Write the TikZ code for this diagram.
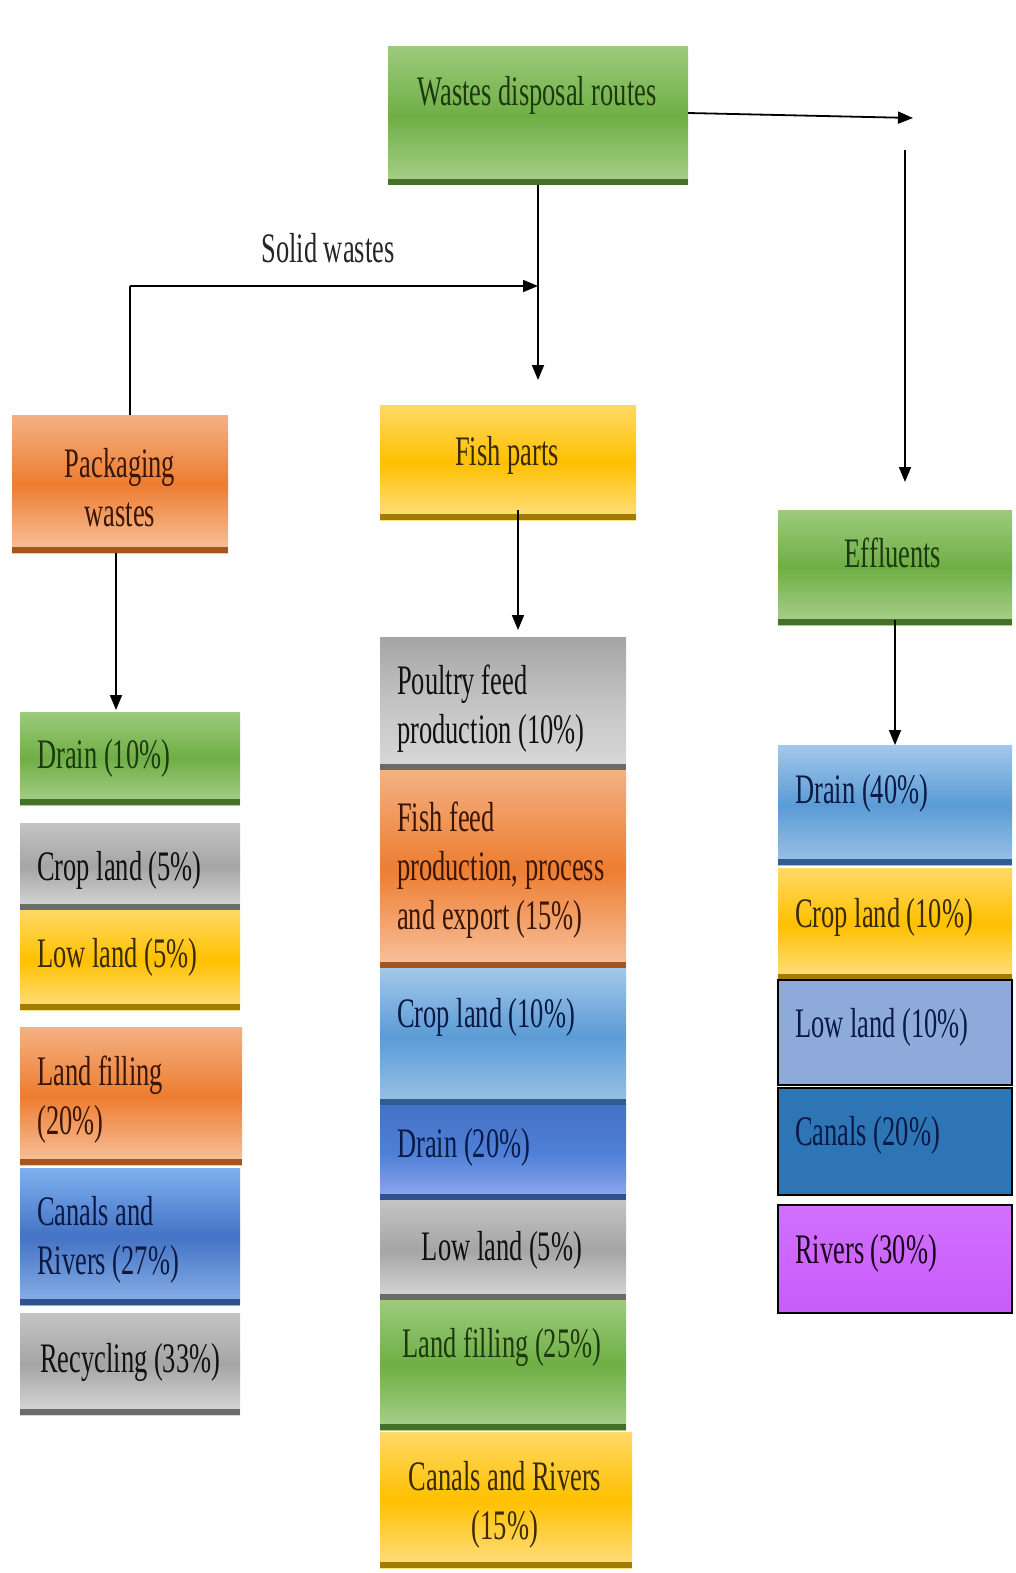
\documentclass[tikz,border=0pt]{standalone}
\usepackage{fontspec}
\setmainfont[FakeStretch=0.63]{Liberation Serif}
\usetikzlibrary{arrows.meta}

% box palettes
\definecolor{gTop}{HTML}{9CCB7C}\definecolor{gMid}{HTML}{6FAE45}\definecolor{gBot}{HTML}{A9D18E}\definecolor{gBand}{HTML}{476F2C}\definecolor{gTxt}{HTML}{1C3A0E}
\definecolor{oTop}{HTML}{F4B183}\definecolor{oMid}{HTML}{ED7D31}\definecolor{oBot}{HTML}{F8C3A0}\definecolor{oBand}{HTML}{A4561E}\definecolor{oTxt}{HTML}{3A1604}
\definecolor{yTop}{HTML}{FFD966}\definecolor{yMid}{HTML}{FFC000}\definecolor{yBot}{HTML}{FFE083}\definecolor{yBand}{HTML}{A07C00}\definecolor{yTxt}{HTML}{3A2A00}
\definecolor{kTop}{HTML}{C4C4C4}\definecolor{kMid}{HTML}{A5A5A5}\definecolor{kBot}{HTML}{D9D9D9}\definecolor{kBand}{HTML}{6B6B6B}\definecolor{kTxt}{HTML}{111111}
\definecolor{bTop}{HTML}{7FB0EF}\definecolor{bMid}{HTML}{4472C4}\definecolor{bBot}{HTML}{8AB2E8}\definecolor{bBand}{HTML}{2F528F}\definecolor{bTxt}{HTML}{0A1A45}
\definecolor{lTop}{HTML}{A3C8EA}\definecolor{lMid}{HTML}{5B9BD5}\definecolor{lBot}{HTML}{9DC3E6}\definecolor{lBand}{HTML}{2E5D8F}
\definecolor{dTop}{HTML}{4472C4}\definecolor{dMid}{HTML}{4F7FD6}\definecolor{dBot}{HTML}{93A9F0}
\definecolor{fLow}{HTML}{8EAADB}\definecolor{fCan}{HTML}{2E75B6}\definecolor{fRivA}{HTML}{C95CFA}\definecolor{fRivB}{HTML}{D070FF}

\tikzset{
  panel/.style={inner sep=0pt, outer sep=0pt, draw=none,
    path picture={\fill[#1] (path picture bounding box.south west) rectangle ([yshift=6pt]path picture bounding box.south east);}},
  greenbox/.style={panel=gBand, top color=gTop, bottom color=gBot, middle color=gMid},
  orangebox/.style={panel=oBand, top color=oTop, bottom color=oBot, middle color=oMid},
  yellowbox/.style={panel=yBand, top color=yTop, bottom color=yBot, middle color=yMid},
  graybox/.style={panel=kBand, top color=kTop, bottom color=kBot, middle color=kMid},
  bluebox/.style={panel=bBand, top color=bTop, bottom color=bBot, middle color=bMid},
  skybox/.style={panel=lBand, top color=lTop, bottom color=lBot, middle color=lMid},
  deepbox/.style={panel=bBand, top color=dTop, bottom color=dBot, middle color=dMid},
  flatbox/.style={inner sep=0pt, outer sep=0pt, draw=black, line width=2pt, fill=#1},
  lbl/.style={inner sep=0pt, yshift=-5pt, font=\fontsize{42}{49}\selectfont, align=left},
  lblc/.style={inner sep=0pt, yshift=-5pt, font=\fontsize{42}{49}\selectfont, align=center},
  arr/.style={line width=1.8pt, -{Triangle[length=15pt,width=12pt]}},
  wire/.style={line width=1.8pt}
}

\begin{document}
\begin{tikzpicture}[x=1pt,y=-1pt]
\useasboundingbox[fill=white] (0,0) rectangle (1015,1573);

% ---- top level ----
\node[greenbox, minimum width=300pt, minimum height=138pt] (top) at (538,116) {};
\node[lblc, text=gTxt] (topT) at (537,90) {Wastes disposal routes};

\node[yellowbox, minimum width=256pt, minimum height=115pt] (fish) at (508,462.5) {};
\node[lblc, text=yTxt] (fishT) at (507,450) {Fish parts};

\node[orangebox, minimum width=216pt, minimum height=138pt] (pack) at (120,484) {};
\node[lblc, text=oTxt] (packT) at (120,483) {Packaging\\wastes};

\node[greenbox, minimum width=234pt, minimum height=115pt] (eff) at (895,567.5) {};
\node[lblc, text=gTxt] (effT) at (893,548) {Effluents};

\node[lblc, text=black!85] (solid) at (328,243) {Solid wastes};

% ---- packaging wastes column ----
\node[greenbox, minimum width=220pt, minimum height=93pt] (L1) at (130,758.5) {};
\node[lbl, anchor=west, text=gTxt] (L1T) at (37,753) {Drain (10\%)};
\node[graybox, minimum width=220pt, minimum height=87pt] (L2) at (130,866.5) {};
\node[lbl, anchor=west, text=kTxt] (L2T) at (37,865) {Crop land (5\%)};
\node[yellowbox, minimum width=220pt, minimum height=100pt] (L3) at (130,960) {};
\node[lbl, anchor=west, text=yTxt] (L3T) at (37,952) {Low land (5\%)};
\node[orangebox, minimum width=222pt, minimum height=138pt] (L4) at (131,1096) {};
\node[lbl, anchor=west, text=oTxt] (L4T) at (37,1095) {Land filling\\(20\%)};
\node[bluebox, minimum width=220pt, minimum height=137pt] (L5) at (130,1236.5) {};
\node[lbl, anchor=west, text=bTxt] (L5T) at (37,1235) {Canals and\\Rivers (27\%)};
\node[graybox, minimum width=220pt, minimum height=102pt] (L6) at (130,1364) {};
\node[lbl, anchor=west, text=kTxt] (L6T) at (40,1357) {Recycling (33\%)};

% ---- fish parts column ----
\node[panel=kBand, top color=kMid, bottom color=kBot, middle color=kTop, minimum width=246pt, minimum height=133pt] (M1) at (503,703.5) {};
\node[lbl, anchor=west, text=kTxt] (M1T) at (397,704) {Poultry feed\\production (10\%)};
\node[orangebox, minimum width=246pt, minimum height=198pt] (M2) at (503,869) {};
\node[lbl, anchor=west, text=oTxt] (M2T) at (397,865) {Fish feed\\production, process\\and export (15\%)};
\node[skybox, minimum width=246pt, minimum height=137pt] (M3) at (503,1036.5) {};
\node[lbl, anchor=west, text=bTxt] (M3T) at (397,1012) {Crop land (10\%)};
\node[deepbox, minimum width=246pt, minimum height=95pt] (M4) at (503,1152.5) {};
\node[lbl, anchor=west, text=bTxt] (M4T) at (397,1142) {Drain (20\%)};
\node[graybox, minimum width=246pt, minimum height=100pt] (M5) at (503,1250) {};
\node[lblc, text=kTxt] (M5T) at (502,1245) {Low land (5\%)};
\node[greenbox, minimum width=246pt, minimum height=130pt] (M6) at (503,1365) {};
\node[lblc, text=gTxt] (M6T) at (502,1342) {Land filling (25\%)};
\node[yellowbox, minimum width=252pt, minimum height=136pt] (M7) at (506,1500) {};
\node[lblc, text=yTxt] (M7T) at (505,1500) {Canals and Rivers\\(15\%)};

% ---- effluents column ----
\node[skybox, minimum width=234pt, minimum height=120pt] (R1) at (895,805) {};
\node[lbl, anchor=west, text=bTxt] (R1T) at (795,788) {Drain (40\%)};
\node[yellowbox, minimum width=234pt, minimum height=112pt] (R2) at (895,924) {};
\node[lbl, anchor=west, text=yTxt] (R2T) at (795,912) {Crop land (10\%)};
\node[flatbox=fLow, minimum width=234pt, minimum height=105pt] (R3) at (895,1032.5) {};
\node[lbl, anchor=west, text=bTxt] (R3T) at (795,1022) {Low land (10\%)};
\node[flatbox=fCan, minimum width=234pt, minimum height=107pt] (R4) at (895,1141.5) {};
\node[lbl, anchor=west, text=bTxt] (R4T) at (795,1130) {Canals (20\%)};
\node[flatbox=fRivA, top color=fRivB, bottom color=fRivA, minimum width=234pt, minimum height=108pt] (R5) at (895,1259) {};
\node[lbl, anchor=west, text=black!80!violet] (R5T) at (795,1248) {Rivers (30\%)};

% ---- connectors ----
\coordinate (effTurn) at (913,118);
\coordinate (effDrop) at (905,150);
\coordinate (solidCorner) at (130,286);

\draw[arr] ([yshift=3pt]top.east) -- (effTurn);
\draw[arr, shorten >=28pt] (effDrop) -- (effDrop |- eff.north);
\draw[arr, shorten >=25pt] (top.south) -- (top.south |- fish.north);
\draw[wire] (pack.north -| solidCorner) -- (solidCorner);
\draw[arr] (solidCorner) -- (solidCorner -| top.south);
\draw[arr, shorten >=2pt] ([xshift=-4pt]pack.south) -- ([xshift=-4pt]pack.south |- L1.north);
\draw[arr, shorten <=-10pt, shorten >=7pt] ([xshift=10pt]fish.south) -- ([xshift=10pt]fish.south |- M1.north);
\draw[arr, shorten <=-5pt] (eff.south) -- (R1.north);
\end{tikzpicture}
\end{document}
